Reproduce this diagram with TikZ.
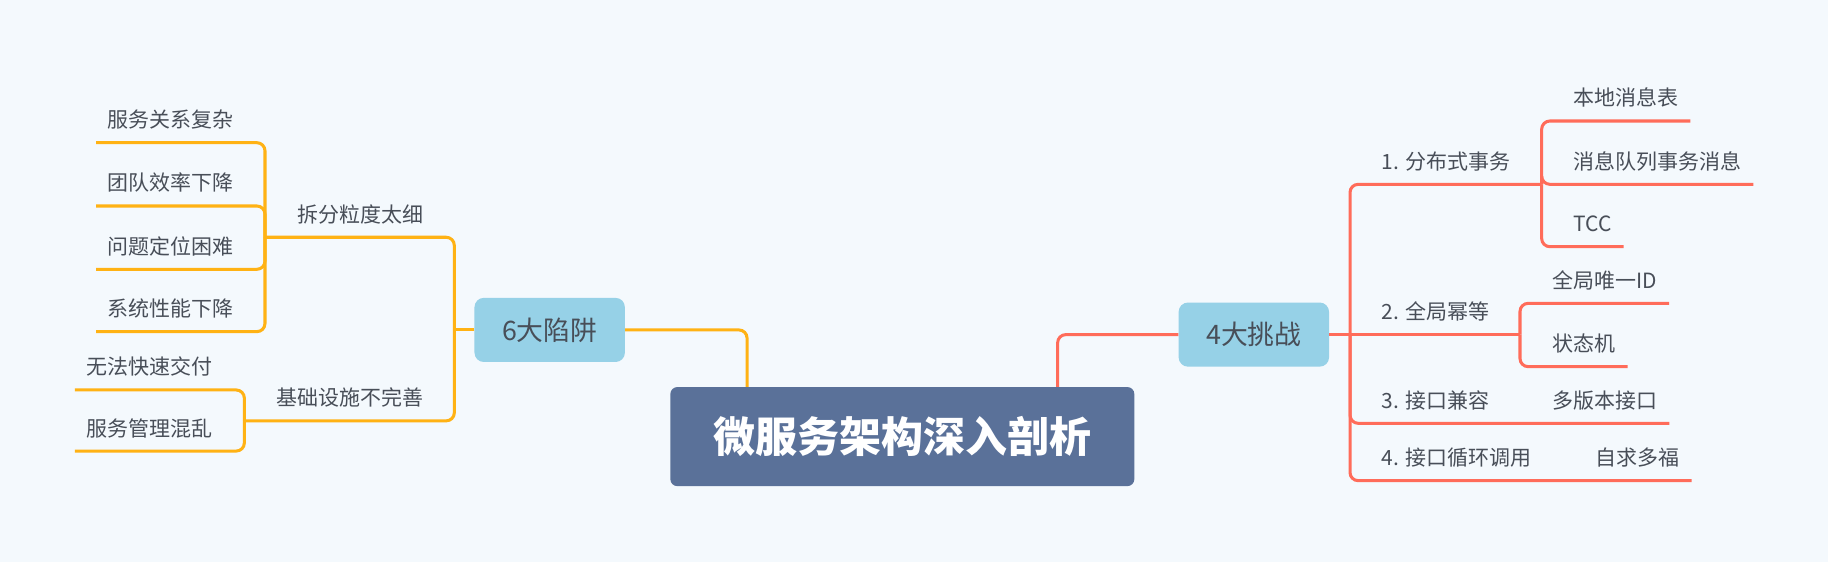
\documentclass[tikz,border=0pt]{standalone}
\usepackage{fontspec}
\newfontfamily\cjk{Noto Sans CJK SC}
\definecolor{bgcol}{RGB}{244,249,253}
\definecolor{rootcol}{RGB}{90,113,153}
\definecolor{topiccol}{RGB}{150,209,231}
\definecolor{txtcol}{RGB}{72,78,88}
\definecolor{ylinecol}{RGB}{255,178,20}
\definecolor{rlinecol}{RGB}{255,108,90}
\tikzset{
    root/.style={fill=rootcol,rounded corners=6pt,minimum width=398pt,minimum height=85pt,text=white,font=\cjk\bfseries\fontsize{36}{40}\selectfont},
    topic/.style={fill=topiccol,rounded corners=8pt,minimum width=129pt,minimum height=55pt,text=txtcol,font=\cjk\fontsize{23}{26}\selectfont},
    leaf/.style={anchor=south west,inner xsep=10pt,inner ysep=8.7pt,text height=13pt,text depth=4pt,text=txtcol,font=\cjk\fontsize{18}{20}\selectfont},
    yline/.style={draw=ylinecol,line width=2.6pt,rounded corners=7pt},
    rline/.style={draw=rlinecol,line width=2.6pt,rounded corners=7pt}
}
\begin{document}
\begin{tikzpicture}[x=1pt,y=-1pt]
    \fill[bgcol] (0,0) rectangle (1568,482);
    \useasboundingbox (0,0) rectangle (1568,482);
    \node[root] (core) at (774,374.5) {微服务架构深入剖析};
    \node[topic] (trap) at (471.5,283) {6大陷阱};
    \node[topic] (chal) at (1075.5,287) {4大挑战};
    \draw[yline] ([xshift=66pt]core.north west) |- (trap.east);
    \draw[rline] ([xshift=-66pt]core.north east) |- (chal.west);
    % left side
    \coordinate (lt) at (389.7,283);
    \coordinate (sj1) at (227.3,203.5);
    \coordinate (sj2) at (209.6,361);
    \node[leaf] (split) at (245,203.5) {拆分粒度太细};
    \node[leaf] (infra) at (226.8,361) {基础设施不完善};
    \node[leaf] (p1) at (82.4,122.4) {服务关系复杂};
    \node[leaf] (p2) at (82.4,176.7) {团队效率下降};
    \node[leaf] (p3) at (82.4,231) {问题定位困难};
    \node[leaf] (p4) at (82.4,284.5) {系统性能下降};
    \node[leaf] (p5) at (64.3,334.5) {无法快速交付};
    \node[leaf] (p6) at (64.3,386.9) {服务管理混乱};
    \draw[yline] (trap.west) -- (lt);
    \draw[yline] (lt) |- (sj1);
    \draw[yline] (lt) |- (sj2);
    \foreach \n in {p1,p2,p3,p4} {
        \draw[yline] (sj1) |- (\n.south west);
    }
    \foreach \n in {p5,p6} {
        \draw[yline] (sj2) |- (\n.south west);
    }
    % right side
    \coordinate (rt) at (1158,287);
    \coordinate (rj1) at (1322.4,158.1);
    \coordinate (rj2) at (1303.8,287);
    \node[leaf] (c1) at (1175,158.1) {1. 分布式事务};
    \node[leaf] (c2) at (1175,287) {2. 全局幂等};
    \node[leaf] (c3) at (1175,363.1) {3. 接口兼容};
    \node[leaf] (c4) at (1175,412.3) {4. 接口循环调用};
    \node[leaf] (m1) at (1339.6,103.8) {本地消息表};
    \node[leaf] (m2) at (1339.6,158.1) {消息队列事务消息};
    \node[leaf] (m3) at (1339.6,211.6) {TCC};
    \node[leaf] (n1) at (1321.6,260.2) {全局唯一ID};
    \node[leaf] (n2) at (1321.6,314.5) {状态机};
    \node[leaf] (k1) at (1321.6,363.1) {多版本接口};
    \node[leaf] (f1) at (1358.7,412.3) {自求多福};
    \draw[rline] (chal.east) -- (rt);
    \draw[rline] (rt) |- (rj1);
    \draw[rline] (rt) -- (rj2);
    \draw[rline] (rt) |- (k1.south east);
    \draw[rline] (rt) |- (f1.south east);
    \foreach \n in {m1,m2,m3} {
        \draw[rline] (rj1) |- (\n.south east);
    }
    \foreach \n in {n1,n2} {
        \draw[rline] (rj2) |- (\n.south east);
    }
\end{tikzpicture}
\end{document}
